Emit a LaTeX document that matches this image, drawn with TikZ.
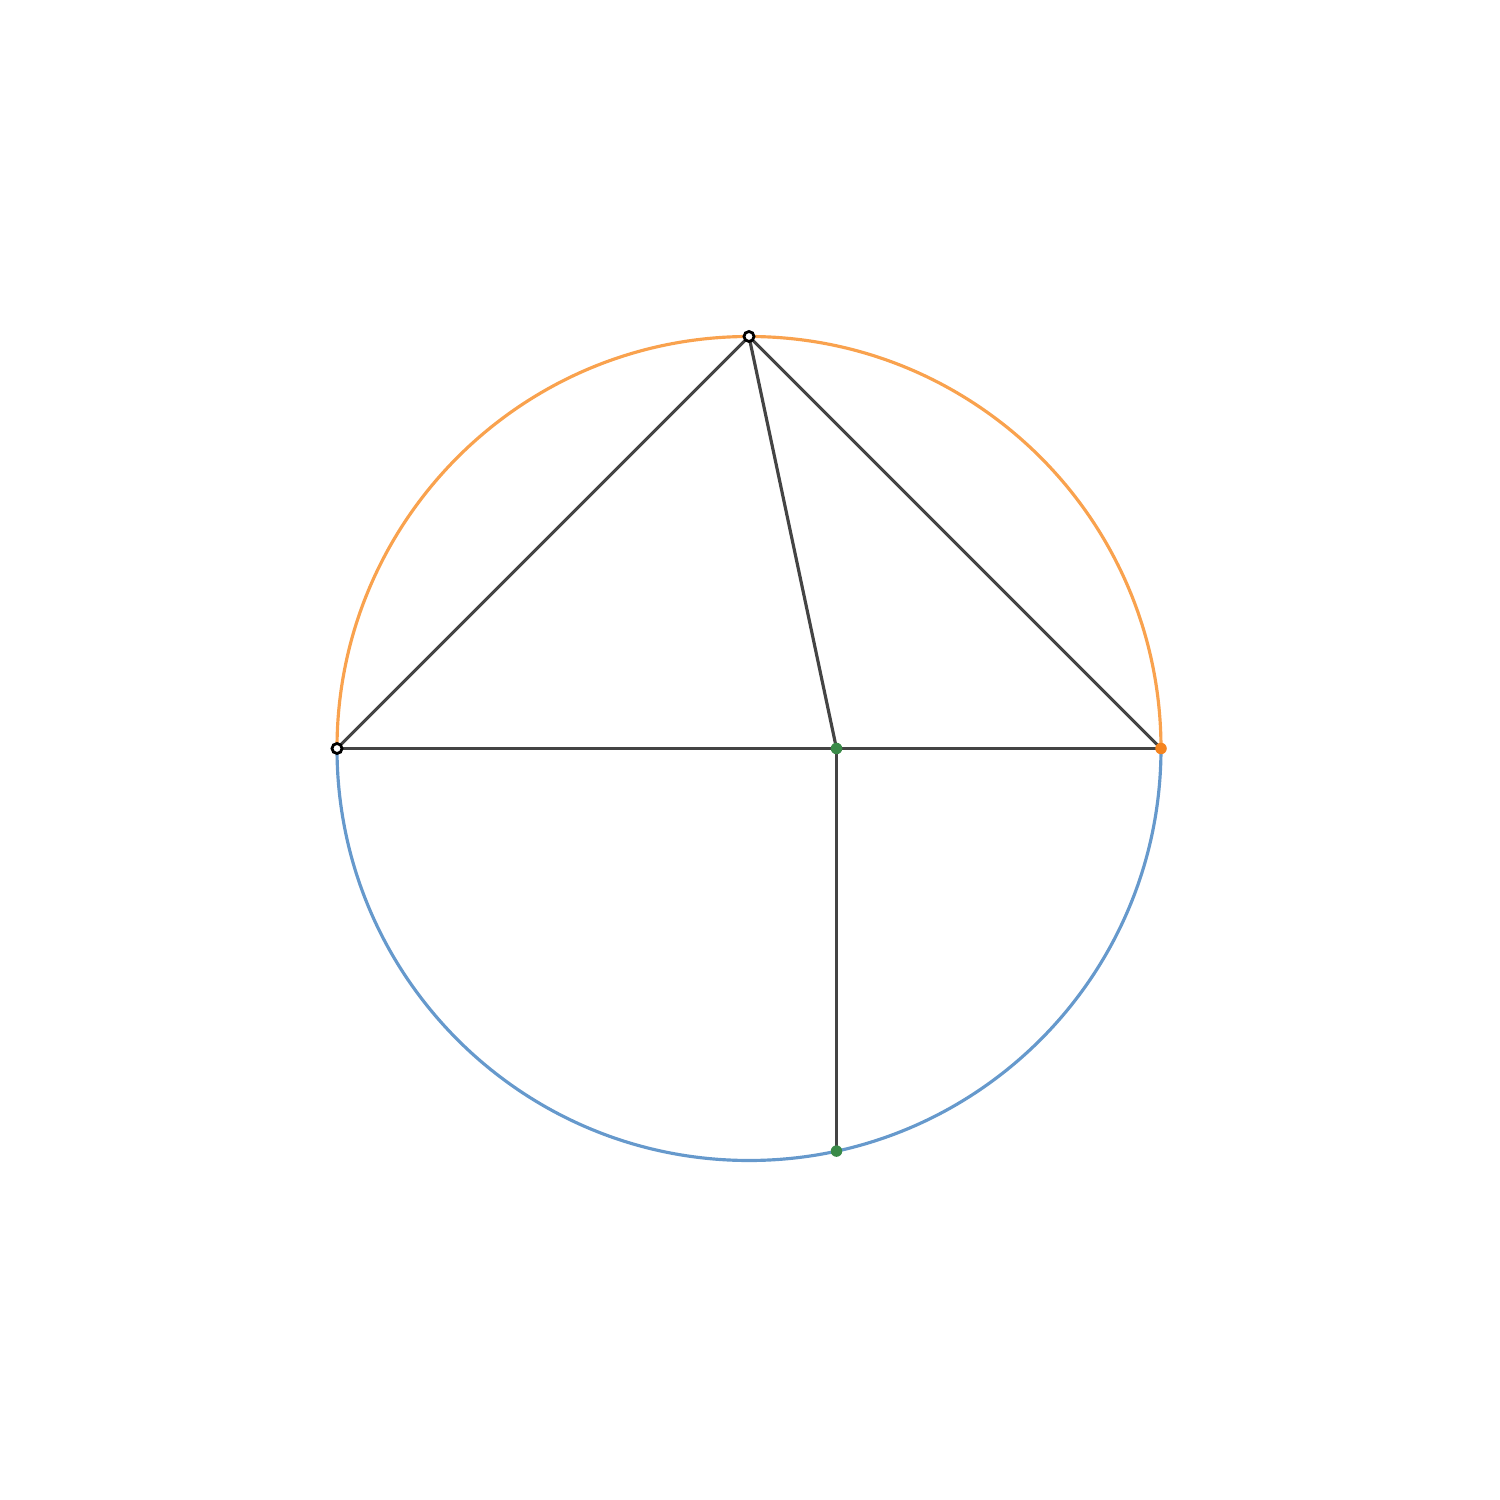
\documentclass[tikz,border=0pt]{standalone}
\usetikzlibrary{calc}
\begin{document}
\begin{tikzpicture}
\definecolor{arcorange}{HTML}{F9A24E}
\definecolor{arcblue}{HTML}{6699CC}
\definecolor{segdark}{HTML}{444444}
\definecolor{dotgreen}{HTML}{3A8A48}
\definecolor{dotorange}{HTML}{F5841F}
\tikzset{
  arcline/.style={line width=0.9pt},
  segline/.style={line width=0.9pt, color=segdark},
  opendot/.style={circle, draw=black, fill=white, line width=0.8pt, inner sep=0pt, minimum size=0.1cm},
  filldot/.style={circle, fill=#1, inner sep=0pt, minimum size=0.115cm}
}
\useasboundingbox (0,0) rectangle (15,15);
\coordinate (O) at (7.49,7.515);
\def\R{4.12}
\draw[arcline, arcorange] ($(O)+(\R,0)$) arc[start angle=0, end angle=180, radius=\R];
\draw[arcline, arcblue] ($(O)+(-\R,0)$) arc[start angle=180, end angle=360, radius=\R];
\coordinate (A) at ($(O)+(-\R,0)$);
\coordinate (B) at ($(O)+(\R,0)$);
\coordinate (C) at ($(O)+(0,\R)$);
\coordinate (D) at ($(O)+(0.875,0)$);
\coordinate (E) at ($(O)+(0.875,-4.026)$);
\draw[segline] (A) -- (B);
\draw[segline] (A) -- (C) -- (B);
\draw[segline] (C) -- (D);
\draw[segline] (D) -- (E);
\node[opendot] (nA) at (A) {};
\node[opendot] (nC) at (C) {};
\node[filldot=dotorange] (nB) at (B) {};
\node[filldot=dotgreen] (nD) at (D) {};
\node[filldot=dotgreen] (nE) at (E) {};
\end{tikzpicture}
\end{document}
